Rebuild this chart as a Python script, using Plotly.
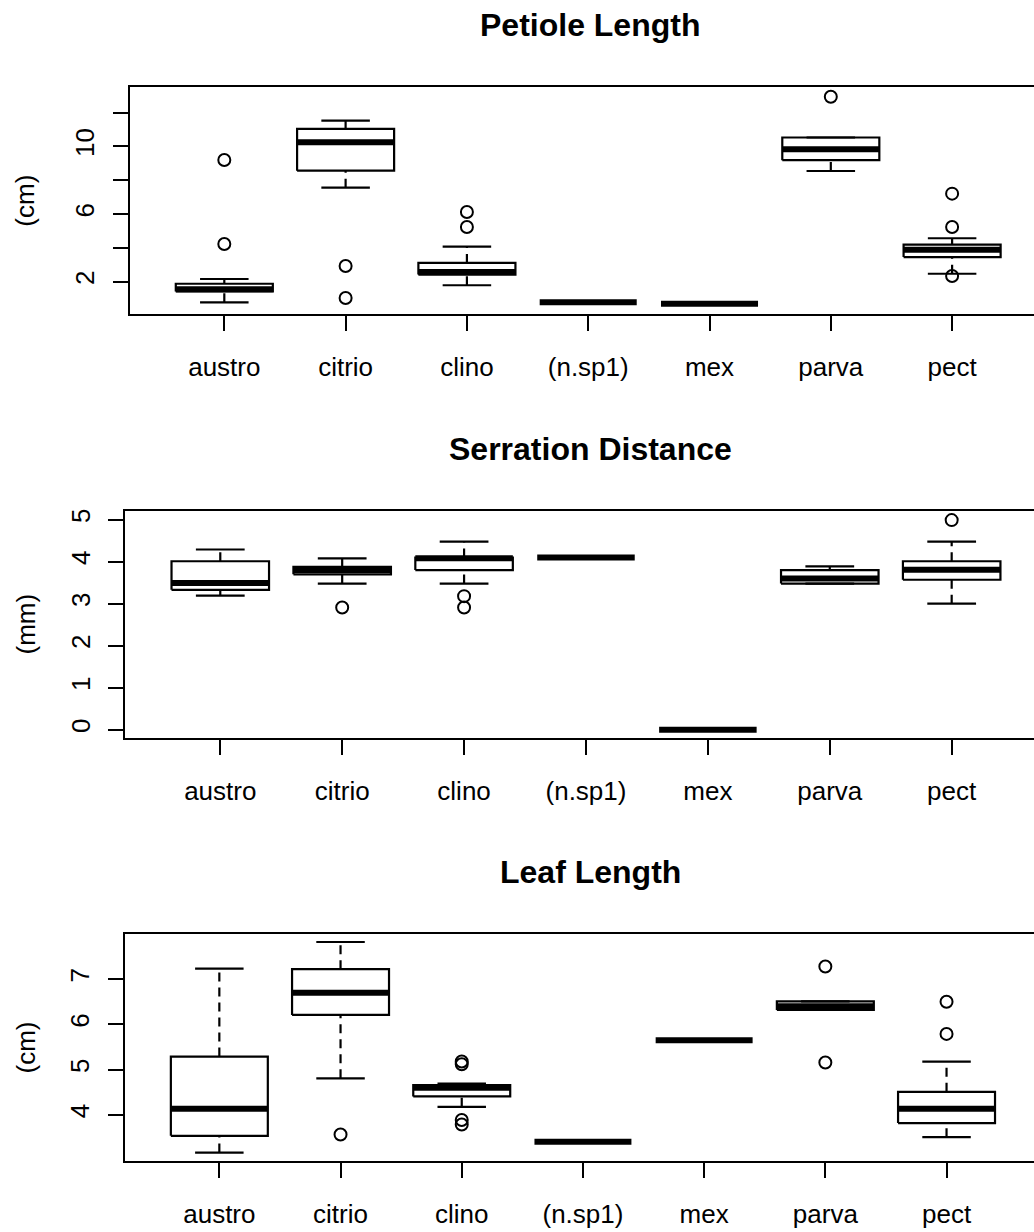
import plotly.graph_objects as go

# ---------------- data ----------------
categories = ["austro", "citrio", "clino", "(n.sp1)", "mex", "parva", "pect"]

# Petiole Length (cm)
pet_lo = [0.78, 7.56, 1.79, 0.78, 0.69, 8.55, 2.47]
pet_q1 = [1.42, 8.57, 2.42, 0.78, 0.69, 9.19, 3.46]
pet_med = [1.55, 10.25, 2.58, 0.78, 0.69, 9.83, 3.89]
pet_q3 = [1.88, 11.04, 3.11, 0.78, 0.69, 10.53, 4.19]
pet_hi = [2.16, 11.53, 4.07, 0.78, 0.69, 10.53, 4.57]
pet_out_cat = ["austro", "austro", "citrio", "citrio", "clino", "clino", "parva", "pect", "pect", "pect"]
pet_out_val = [9.20, 4.23, 2.93, 1.04, 6.12, 5.24, 12.94, 7.21, 5.24, 2.34]

# Serration Distance (mm)
ser_lo = [3.19, 3.48, 3.48, 4.10, 0.0, 3.48, 3.00]
ser_q1 = [3.33, 3.70, 3.80, 4.10, 0.0, 3.48, 3.57]
ser_med = [3.49, 3.80, 4.08, 4.10, 0.0, 3.60, 3.81]
ser_q3 = [4.01, 3.88, 4.10, 4.10, 0.0, 3.80, 4.01]
ser_hi = [4.29, 4.08, 4.48, 4.10, 0.0, 3.89, 4.48]
ser_out_cat = ["citrio", "clino", "clino", "pect"]
ser_out_val = [2.91, 3.18, 2.91, 4.99]

# Leaf Length (cm)
leaf_lo = [3.17, 4.81, 4.18, 3.41, 5.65, 6.32, 3.51]
leaf_q1 = [3.54, 6.21, 4.41, 3.41, 5.65, 6.32, 3.82]
leaf_med = [4.14, 6.70, 4.60, 3.41, 5.65, 6.40, 4.14]
leaf_q3 = [5.29, 7.22, 4.66, 3.41, 5.65, 6.51, 4.51]
leaf_hi = [7.23, 7.82, 4.69, 3.41, 5.65, 6.51, 5.18]
leaf_out_cat = ["citrio", "clino", "clino", "clino", "clino", "parva", "parva", "pect", "pect"]
leaf_out_val = [3.57, 5.18, 5.12, 3.89, 3.79, 7.28, 5.16, 6.50, 5.79]

titles = ["Petiole Length", "Serration Distance", "Leaf Length"]
units = ["(cm)", "(mm)", "(cm)"]
y_tickvals = [[2, 4, 6, 8, 10, 12], [0, 1, 2, 3, 4, 5], [4, 5, 6, 7]]
y_ticktext = [["2", "", "6", "", "10", ""], ["0", "1", "2", "3", "4", "5"], ["4", "5", "6", "7"]]

# ---------------- layout geometry (pixels) ----------------
W, H = 1034, 1232
panels = [
    dict(top=87.3, bottom=314.0, left=129.7, xscale=121.3, yrange=[0.09, 13.50], title_y=25),
    dict(top=511.0, bottom=738.0, left=125.2, xscale=121.9, yrange=[-0.198, 5.207], title_y=449),
    dict(top=934.3, bottom=1160.7, left=124.8, xscale=121.2, yrange=[2.99, 7.99], title_y=872),
]
stats = [
    (pet_lo, pet_q1, pet_med, pet_q3, pet_hi, pet_out_cat, pet_out_val),
    (ser_lo, ser_q1, ser_med, ser_q3, ser_hi, ser_out_cat, ser_out_val),
    (leaf_lo, leaf_q1, leaf_med, leaf_q3, leaf_hi, leaf_out_cat, leaf_out_val),
]

FONT = "Liberation Sans, Arial, sans-serif"
BOXW = 0.4     # half box width
STAPW = 0.2    # half staple width

fig = go.Figure()
annotations = []
layout_axes = {}

for p, (geo, st) in enumerate(zip(panels, stats)):
    lo, q1, med, q3, hi, ocat, oval = st
    xa = "x" if p == 0 else f"x{p+1}"
    ya = "y" if p == 0 else f"y{p+1}"
    pos = {c: i + 1 for i, c in enumerate(categories)}

    bx, by, wx, wy, sx, sy, mx, my = [], [], [], [], [], [], [], []
    for c in categories:
        i = categories.index(c)
        xc = pos[c]
        if q3[i] > q1[i]:
            bx += [xc - BOXW, xc + BOXW, xc + BOXW, xc - BOXW, xc - BOXW, None]
            by += [q1[i], q1[i], q3[i], q3[i], q1[i], None]
        if hi[i] > q3[i]:
            wx += [xc, xc, None]
            wy += [q3[i], hi[i], None]
        if lo[i] < q1[i]:
            wx += [xc, xc, None]
            wy += [lo[i], q1[i], None]
        if hi[i] > lo[i]:
            sx += [xc - STAPW, xc + STAPW, None, xc - STAPW, xc + STAPW, None]
            sy += [hi[i], hi[i], None, lo[i], lo[i], None]
        mx += [xc - BOXW, xc + BOXW, None]
        my += [med[i], med[i], None]

    common = dict(xaxis=xa, yaxis=ya, showlegend=False, hoverinfo="skip", mode="lines")
    fig.add_trace(go.Scatter(x=wx, y=wy, line=dict(color="black", width=2.2, dash="9px,6px"), **common))
    fig.add_trace(go.Scatter(x=sx, y=sy, line=dict(color="black", width=2.2), **common))
    fig.add_trace(go.Scatter(x=bx, y=by, line=dict(color="black", width=2.2), **common))
    fig.add_trace(go.Scatter(x=mx, y=my, line=dict(color="black", width=6), **common))
    fig.add_trace(go.Scatter(
        x=[pos[c] for c in ocat], y=oval, xaxis=xa, yaxis=ya, mode="markers",
        marker=dict(symbol="circle-open", size=12, color="black", line=dict(width=2, color="black")),
        showlegend=False, hoverinfo="skip"))

    xd0 = geo["left"] / W
    xr1 = 0.22 + (W - geo["left"]) / geo["xscale"]
    yd0 = 1 - geo["bottom"] / H
    yd1 = 1 - geo["top"] / H
    xkey = "xaxis" if p == 0 else f"xaxis{p+1}"
    ykey = "yaxis" if p == 0 else f"yaxis{p+1}"
    layout_axes[xkey] = dict(
        domain=[xd0, 1], range=[0.22, xr1], anchor=ya,
        tickmode="array", tickvals=[pos[c] for c in categories], ticktext=categories,
        ticks="outside", ticklen=15, tickwidth=2, tickcolor="black",
        showline=True, linewidth=2, linecolor="black", mirror=True,
        showgrid=False, zeroline=False, automargin=False,
        tickfont=dict(family=FONT, size=26, color="black"), ticklabelstandoff=14,
    )
    layout_axes[ykey] = dict(
        domain=[yd0, yd1], range=geo["yrange"], anchor=xa,
        tickmode="array", tickvals=y_tickvals[p], ticktext=y_ticktext[p],
        ticks="outside", ticklen=15, tickwidth=2, tickcolor="black", tickangle=-90,
        showline=True, linewidth=2, linecolor="black", mirror=False,
        showgrid=False, zeroline=False, automargin=False,
        tickfont=dict(family=FONT, size=26, color="black"), ticklabelstandoff=8,
    )
    annotations.append(dict(
        text=f"<b>{titles[p]}</b>", x=590 / W, y=1 - geo["title_y"] / H, xref="paper", yref="paper",
        xanchor="center", yanchor="middle", showarrow=False,
        font=dict(family=FONT, size=32, color="black")))
    annotations.append(dict(
        text=units[p], x=25 / W, y=1 - (geo["top"] + geo["bottom"]) / 2 / H, xref="paper", yref="paper",
        xanchor="center", yanchor="middle", showarrow=False, textangle=-90,
        font=dict(family=FONT, size=26, color="black")))

fig.update_layout(
    width=W, height=H, template="none",
    margin=dict(l=0, r=0, t=0, b=0, pad=0),
    paper_bgcolor="white", plot_bgcolor="white",
    annotations=annotations, **layout_axes,
)

fig.write_html("out.html")
